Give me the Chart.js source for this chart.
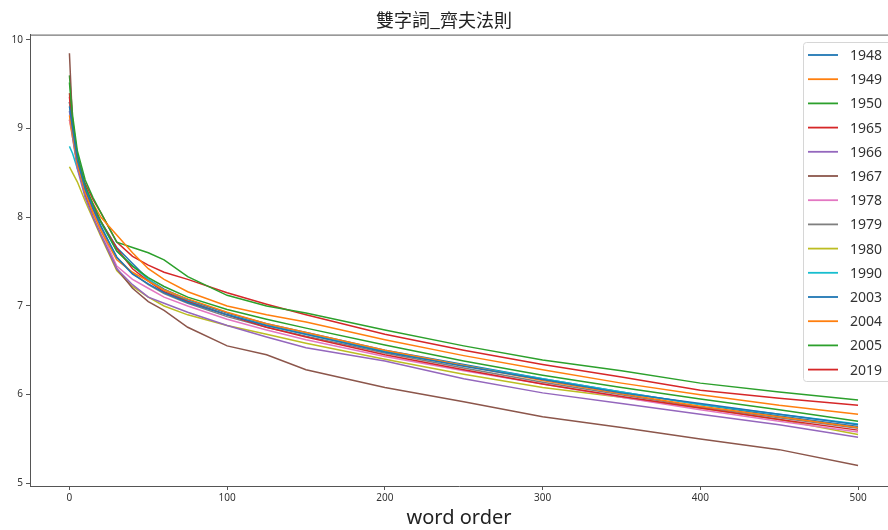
<!DOCTYPE html>
<html>
<head>
<meta charset="utf-8">
<script src="https://cdn.jsdelivr.net/npm/chart.js@4"></script>
<style>
  html, body { margin: 0; padding: 0; background: #fff; }
  #wrap { width: 888px; height: 530px; }
</style>
</head>
<body>
<div id="wrap"><canvas id="chart-zipf" width="888" height="530"></canvas></div>
<script>
/* 雙字詞 Zipf curves, one line per year */

const years = ['1948', '1949', '1950', '1965', '1966', '1967', '1978', '1979', '1980', '1990', '2003', '2004', '2005', '2019'];
const wordOrder = [0, 2, 5, 10, 15, 20, 30, 40, 50, 60, 75, 100, 125, 150, 200, 250, 300, 350, 400, 450, 500];
const xTicks = [0, 100, 200, 300, 400, 500];
const yTicks = [5, 6, 7, 8, 9, 10];

const y1948 = [9.25, 9.0, 8.65, 8.32, 8.1, 7.9, 7.55, 7.36, 7.25, 7.15, 7.04, 6.9, 6.78, 6.68, 6.48, 6.32, 6.17, 6.02, 5.9, 5.78, 5.66];
const y1949 = [9.15, 8.95, 8.6, 8.28, 8.05, 7.85, 7.52, 7.38, 7.28, 7.18, 7.08, 6.93, 6.8, 6.7, 6.5, 6.33, 6.16, 6.01, 5.87, 5.75, 5.63];
const y1950 = [9.52, 9.1, 8.7, 8.35, 8.15, 7.95, 7.62, 7.45, 7.32, 7.22, 7.1, 6.96, 6.85, 6.75, 6.56, 6.38, 6.22, 6.08, 5.95, 5.83, 5.7];
const y1965 = [9.36, 9.0, 8.65, 8.3, 8.1, 7.95, 7.65, 7.42, 7.28, 7.16, 7.05, 6.9, 6.76, 6.65, 6.45, 6.28, 6.12, 5.98, 5.85, 5.72, 5.6];
const y1966 = [9.2, 8.9, 8.55, 8.22, 8.0, 7.8, 7.42, 7.24, 7.1, 7.03, 6.93, 6.78, 6.65, 6.53, 6.38, 6.18, 6.02, 5.9, 5.78, 5.66, 5.52];
const y1967 = [9.85, 9.05, 8.6, 8.25, 8.0, 7.8, 7.42, 7.2, 7.05, 6.95, 6.76, 6.55, 6.45, 6.28, 6.08, 5.92, 5.75, 5.63, 5.5, 5.38, 5.2];
const y1978 = [9.1, 8.95, 8.6, 8.28, 8.05, 7.85, 7.45, 7.3, 7.2, 7.1, 7.0, 6.85, 6.73, 6.62, 6.43, 6.27, 6.12, 5.97, 5.83, 5.7, 5.58];
const y1979 = [9.3, 9.0, 8.62, 8.3, 8.08, 7.88, 7.55, 7.37, 7.24, 7.14, 7.03, 6.88, 6.76, 6.66, 6.47, 6.3, 6.14, 6.0, 5.86, 5.74, 5.62];
const y1980 = [8.57, 8.5, 8.4, 8.18, 7.98, 7.78, 7.4, 7.22, 7.1, 7.0, 6.9, 6.78, 6.68, 6.58, 6.4, 6.23, 6.08, 5.97, 5.85, 5.72, 5.55];
const y1990 = [8.8, 8.72, 8.55, 8.3, 8.1, 7.94, 7.62, 7.45, 7.3, 7.18, 7.06, 6.9, 6.78, 6.68, 6.49, 6.33, 6.18, 6.03, 5.89, 5.78, 5.67];
const y2003 = [9.3, 9.05, 8.7, 8.35, 8.12, 7.95, 7.66, 7.48, 7.3, 7.19, 7.07, 6.92, 6.8, 6.7, 6.5, 6.34, 6.18, 6.03, 5.89, 5.76, 5.64];
const y2004 = [9.1, 8.9, 8.6, 8.33, 8.15, 8.0, 7.8, 7.6, 7.42, 7.3, 7.16, 7.0, 6.9, 6.82, 6.62, 6.44, 6.28, 6.13, 6.0, 5.88, 5.78];
const y2005 = [9.6, 9.15, 8.75, 8.42, 8.22, 8.05, 7.72, 7.66, 7.6, 7.52, 7.33, 7.12, 7.0, 6.92, 6.73, 6.55, 6.39, 6.27, 6.13, 6.03, 5.94];
const y2019 = [9.4, 9.05, 8.68, 8.38, 8.2, 8.05, 7.72, 7.56, 7.46, 7.38, 7.3, 7.15, 7.02, 6.9, 6.68, 6.5, 6.34, 6.2, 6.05, 5.96, 5.88];

const series = [y1948, y1949, y1950, y1965, y1966, y1967, y1978, y1979, y1980, y1990, y2003, y2004, y2005, y2019];

// matplotlib tab10 cycle
const tab10 = ['#1f77b4', '#ff7f0e', '#2ca02c', '#d62728', '#9467bd', '#8c564b', '#e377c2', '#7f7f7f', '#bcbd22', '#17becf'];

const axisColor = '#555';
const textColor = '#333';

const datasets = series.map((vals, i) => ({
  label: years[i],
  data: vals.map((v, j) => ({ x: wordOrder[j], y: v })),
  borderColor: tab10[i % tab10.length],
  backgroundColor: tab10[i % tab10.length],
  borderWidth: 1.5,
  pointRadius: 0,
  tension: 0,
  fill: false,
}));

// top spine + boxed legend inside the plot, matplotlib style
const frameAndLegend = {
  id: 'frameAndLegend',
  afterDraw(chart) {
    const { ctx, chartArea } = chart;
    ctx.save();
    ctx.strokeStyle = axisColor;
    ctx.lineWidth = 1;
    ctx.beginPath();
    ctx.moveTo(chartArea.left, chartArea.top + 0.5);
    ctx.lineTo(chartArea.right, chartArea.top + 0.5);
    ctx.stroke();

    const bx = 803, by = 42, bw = 95, bh = 339;
    ctx.fillStyle = 'rgba(255,255,255,0.85)';
    ctx.strokeStyle = '#d6d6d6';
    ctx.beginPath();
    ctx.roundRect(bx + 0.5, by + 0.5, bw, bh, 3);
    ctx.fill();
    ctx.stroke();

    ctx.font = '14px "Noto Sans", "DejaVu Sans", sans-serif';
    ctx.textBaseline = 'middle';
    ctx.textAlign = 'left';
    chart.data.datasets.forEach((ds, i) => {
      const y = 55 + i * 24.2;
      ctx.strokeStyle = ds.borderColor;
      ctx.lineWidth = 1.8;
      ctx.beginPath();
      ctx.moveTo(808, y);
      ctx.lineTo(838, y);
      ctx.stroke();
      ctx.fillStyle = textColor;
      ctx.fillText(ds.label, 850, y + 1);
    });
    ctx.restore();
  },
};

new Chart(document.getElementById('chart-zipf'), {
  type: 'line',
  data: { datasets },
  options: {
    responsive: false,
    animation: false,
    devicePixelRatio: 1,
    layout: { padding: { left: 0, right: 0, top: 0, bottom: 0 } },
    plugins: {
      legend: { display: false },
      tooltip: { enabled: false },
      title: {
        display: true,
        text: '雙字詞_齊夫法則',
        color: '#222',
        font: { family: '"Noto Sans CJK TC", "Noto Sans CJK SC", sans-serif', size: 18, weight: 'normal' },
        padding: { top: 9, bottom: 4 },
      },
    },
    scales: {
      x: {
        type: 'linear',
        min: -25,
        max: 519,
        afterBuildTicks: (s) => { s.ticks = xTicks.map((v) => ({ value: v })); },
        afterFit: (s) => { s.height = 44; },
        grid: { drawOnChartArea: false, drawTicks: true, tickLength: 4, color: axisColor },
        border: { display: true, color: axisColor, width: 1 },
        ticks: { color: textColor, font: { family: '"Noto Sans", sans-serif', size: 10 }, padding: 2, maxRotation: 0 },
        title: {
          display: true,
          text: 'word order',
          color: '#222',
          font: { family: '"Noto Sans", "Open Sans", sans-serif', size: 20 },
          padding: { top: 0, bottom: 0 },
        },
      },
      y: {
        type: 'linear',
        min: 4.97,
        max: 10.06,
        afterBuildTicks: (s) => { s.ticks = yTicks.map((v) => ({ value: v })); },
        afterFit: (s) => { s.width = 30; },
        grid: { drawOnChartArea: false, drawTicks: true, tickLength: 4, color: axisColor },
        border: { display: true, color: axisColor, width: 1 },
        ticks: { color: textColor, font: { family: '"Noto Sans", sans-serif', size: 10 }, padding: 3 },
      },
    },
  },
  plugins: [frameAndLegend],
});
</script>
</body>
</html>
